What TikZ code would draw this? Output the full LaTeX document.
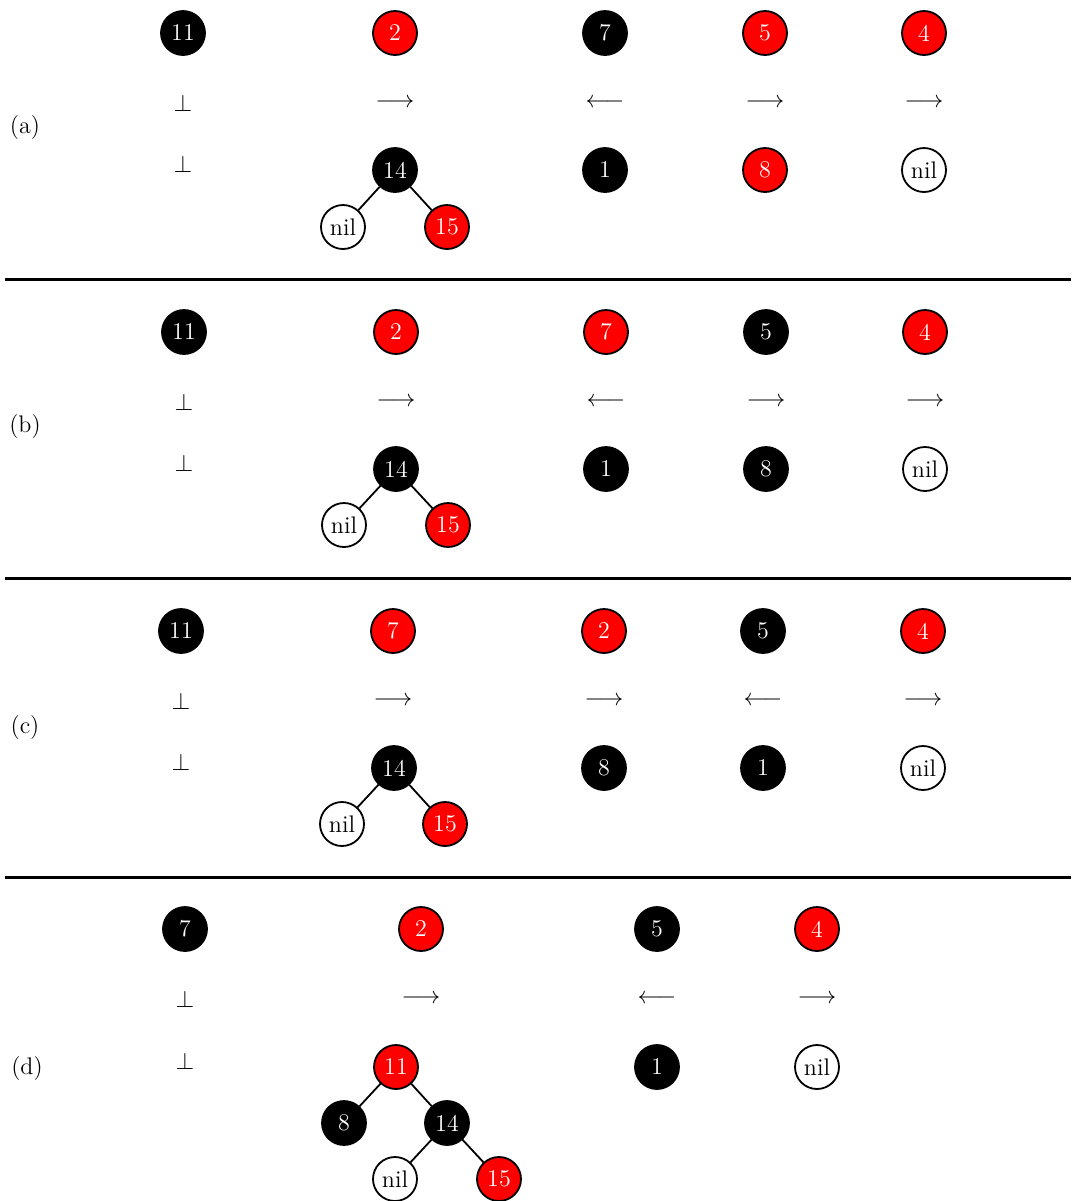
\documentclass[tikz,border=0pt]{standalone}
\usepackage{amsmath,amssymb}
\begin{document}
\begin{tikzpicture}[x=0.5pt,y=-0.5pt,
  every node/.style={font=\fontsize{12}{14}\selectfont},
  rb/.style={circle,draw=black,line width=0.9pt,minimum size=22pt,inner sep=0pt},
  bn/.style={rb,fill=black,text=white},
  rn/.style={rb,fill=red,text=white},
  wn/.style={rb,fill=white,text=black},
  sym/.style={inner sep=1pt},
  edge/.style={line width=0.9pt},
  sep/.style={line width=1.5pt}]
\useasboundingbox (0,0) rectangle (1074,1201);
% ---------- (a) ----------
\node (la) at (25,128) {(a)};
\node[bn] (a11) at (183,33) {11};
\node[rn] (a2) at (395,33) {2};
\node[bn] (a7) at (605,33) {7};
\node[rn] (a5) at (765,33) {5};
\node[rn] (a4) at (924,33) {4};
\node[sym] (ap1) at (183,103) {$\bot$};
\node[sym] (aa2) at (395,103) {$\longrightarrow$};
\node[sym] (aa3) at (605,103) {$\longleftarrow$};
\node[sym] (aa4) at (765,103) {$\longrightarrow$};
\node[sym] (aa5) at (924,103) {$\longrightarrow$};
\node[sym] (ap2) at (183,164) {$\bot$};
\node[bn] (a14) at (395,170) {14};
\node[wn] (anil) at (343,227) {nil};
\node[rn] (a15) at (447,227) {15};
\draw[edge] (a14) -- (anil);
\draw[edge] (a14) -- (a15);
\node[bn] (a1) at (605,170) {1};
\node[rn] (a8) at (765,170) {8};
\node[wn] (anil2) at (924,170) {nil};
\coordinate (s1l) at (5,279); \coordinate (s1r) at (1071,279);
\draw[sep] (s1l) -- (s1r);
% ---------- (b) ----------
\node (lb) at (25,427) {(b)};
\node[bn] (b11) at (184,332) {11};
\node[rn] (b2) at (396,332) {2};
\node[rn] (b7) at (606,332) {7};
\node[bn] (b5) at (766,332) {5};
\node[rn] (b4) at (925,332) {4};
\node[sym] (bp1) at (184,402) {$\bot$};
\node[sym] (ba2) at (396,402) {$\longrightarrow$};
\node[sym] (ba3) at (606,402) {$\longleftarrow$};
\node[sym] (ba4) at (766,402) {$\longrightarrow$};
\node[sym] (ba5) at (925,402) {$\longrightarrow$};
\node[sym] (bp2) at (184,463) {$\bot$};
\node[bn] (b14) at (396,469) {14};
\node[wn] (bnil) at (344,525) {nil};
\node[rn] (b15) at (448,525) {15};
\draw[edge] (b14) -- (bnil);
\draw[edge] (b14) -- (b15);
\node[bn] (b1) at (606,469) {1};
\node[bn] (b8) at (766,469) {8};
\node[wn] (bnil2) at (925,469) {nil};
\coordinate (s2l) at (5,578); \coordinate (s2r) at (1071,578);
\draw[sep] (s2l) -- (s2r);
% ---------- (c) ----------
\node (lc) at (25,727) {(c)};
\node[bn] (c11) at (181,631) {11};
\node[rn] (c7) at (393,631) {7};
\node[rn] (c2) at (604,631) {2};
\node[bn] (c5) at (763,631) {5};
\node[rn] (c4) at (923,631) {4};
\node[sym] (cp1) at (181,701) {$\bot$};
\node[sym] (ca2) at (393,701) {$\longrightarrow$};
\node[sym] (ca3) at (604,701) {$\longrightarrow$};
\node[sym] (ca4) at (763,701) {$\longleftarrow$};
\node[sym] (ca5) at (923,701) {$\longrightarrow$};
\node[sym] (cp2) at (181,762) {$\bot$};
\node[bn] (c14) at (394,768) {14};
\node[wn] (cnil) at (342,824) {nil};
\node[rn] (c15) at (445,824) {15};
\draw[edge] (c14) -- (cnil);
\draw[edge] (c14) -- (c15);
\node[bn] (c8) at (604,768) {8};
\node[bn] (c1) at (763,768) {1};
\node[wn] (cnil2) at (923,768) {nil};
\coordinate (s3l) at (5,877); \coordinate (s3r) at (1071,877);
\draw[sep] (s3l) -- (s3r);
% ---------- (d) ----------
\node (ld) at (27,1068) {(d)};
\node[bn] (d7) at (185,929) {7};
\node[rn] (d2) at (421,929) {2};
\node[bn] (d5) at (657,929) {5};
\node[rn] (d4) at (817,929) {4};
\node[sym] (dp1) at (185,999) {$\bot$};
\node[sym] (da2) at (421,999) {$\longrightarrow$};
\node[sym] (da3) at (657,999) {$\longleftarrow$};
\node[sym] (da4) at (817,999) {$\longrightarrow$};
\node[sym] (dp2) at (185,1061) {$\bot$};
\node[rn] (d11) at (396,1067) {11};
\node[bn] (d8) at (344,1123) {8};
\node[bn] (d14) at (447,1123) {14};
\node[wn] (dnil) at (395,1179) {nil};
\node[rn] (d15) at (499,1179) {15};
\draw[edge] (d11) -- (d8);
\draw[edge] (d11) -- (d14);
\draw[edge] (d14) -- (dnil);
\draw[edge] (d14) -- (d15);
\node[bn] (d1) at (657,1067) {1};
\node[wn] (dnil2) at (817,1067) {nil};
\end{tikzpicture}
\end{document}
